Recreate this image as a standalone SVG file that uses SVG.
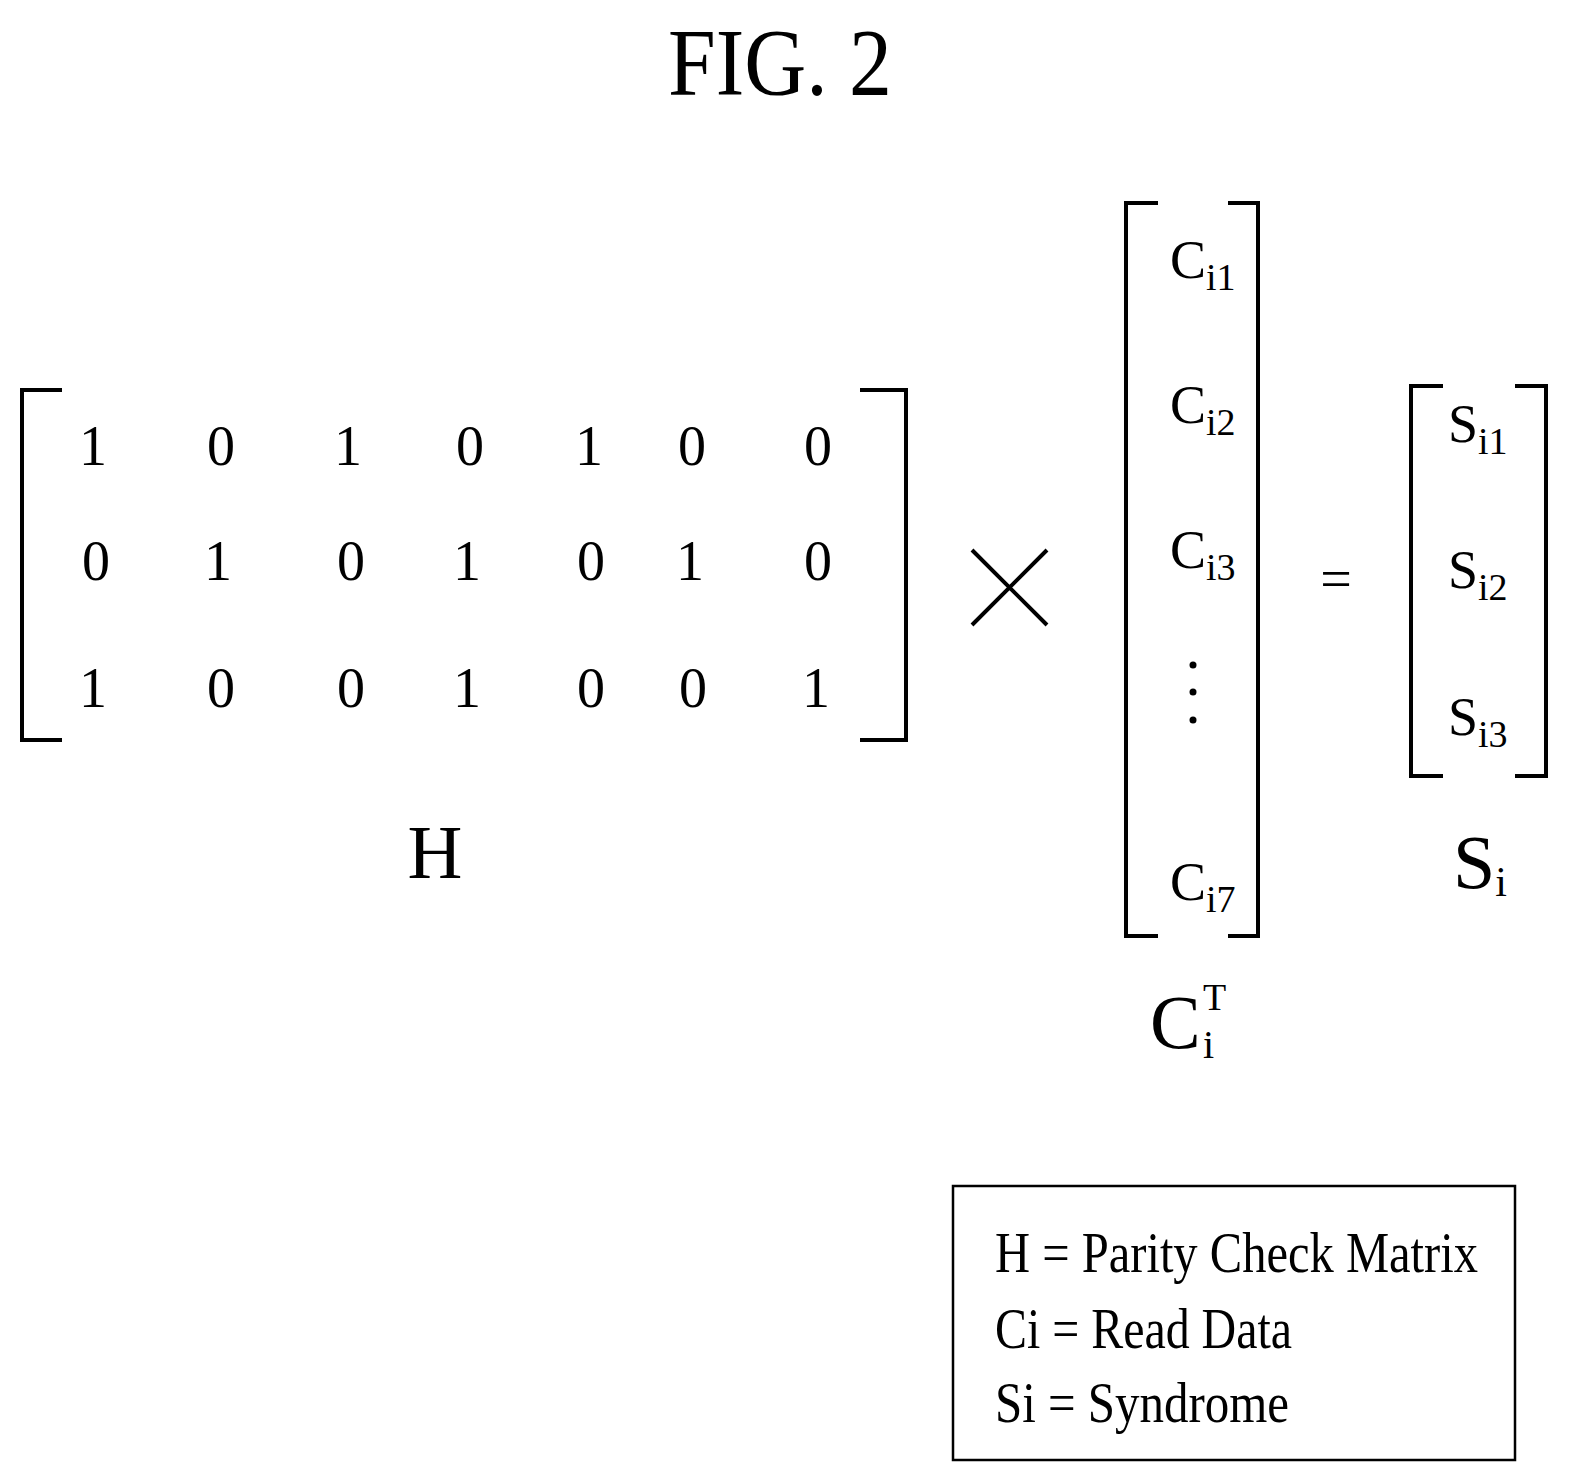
<svg xmlns="http://www.w3.org/2000/svg" width="1570" height="1483" viewBox="0 0 1570 1483">
<style>
text{font-family:"Liberation Serif",serif;fill:#000}
.e{font-size:56px;text-anchor:middle}
.b{fill:none;stroke:#000;stroke-width:4}
.s{font-size:38px}
</style>
<rect width="1570" height="1483" fill="#fff"/>
<text x="780" y="95" font-size="96" text-anchor="middle" textLength="224" lengthAdjust="spacingAndGlyphs">FIG. 2</text>
<g id="H">
<path class="b" d="M62,390H22V740H62M860,390H906V740H860"/>
<g class="e">
<text x="93" y="465">1</text><text x="221" y="465">0</text><text x="348" y="465">1</text><text x="470" y="465">0</text><text x="589" y="465">1</text><text x="692" y="465">0</text><text x="818" y="465">0</text>
<text x="96" y="580">0</text><text x="218" y="580">1</text><text x="351" y="580">0</text><text x="467" y="580">1</text><text x="591" y="580">0</text><text x="690" y="580">1</text><text x="818" y="580">0</text>
<text x="93" y="707">1</text><text x="221" y="707">0</text><text x="351" y="707">0</text><text x="467" y="707">1</text><text x="591" y="707">0</text><text x="693" y="707">0</text><text x="816" y="707">1</text>
</g>
<text x="435" y="878" font-size="76" text-anchor="middle">H</text>
</g>
<g id="times"><path class="b" d="M972,550L1047,625M972,625L1047,550"/></g>
<g id="C">
<path class="b" d="M1158,203H1126V936H1158M1228,203H1258V936H1228"/>
<text x="1170" y="278" font-size="54">C<tspan class="s" dy="12">i1</tspan></text>
<text x="1170" y="423" font-size="54">C<tspan class="s" dy="12">i2</tspan></text>
<text x="1170" y="568" font-size="54">C<tspan class="s" dy="12">i3</tspan></text>
<circle cx="1193" cy="665" r="3.5"/><circle cx="1193" cy="692" r="3.5"/><circle cx="1193" cy="720" r="3.5"/>
<text x="1170" y="900" font-size="54">C<tspan class="s" dy="12">i7</tspan></text>
<text y="1048" font-size="76"><tspan x="1150">C</tspan><tspan x="1203" y="1058" font-size="40">i</tspan><tspan x="1203" y="1010" font-size="38">T</tspan></text>
</g>
<g id="eq"><text x="1336" y="598" font-size="56" text-anchor="middle">=</text></g>
<g id="S">
<path class="b" d="M1443,386H1411V776H1443M1515,386H1546V776H1515"/>
<text x="1448" y="442" font-size="54">S<tspan class="s" dy="12">i1</tspan></text>
<text x="1448" y="588" font-size="54">S<tspan class="s" dy="12">i2</tspan></text>
<text x="1448" y="735" font-size="54">S<tspan class="s" dy="12">i3</tspan></text>
<text x="1453" y="888" font-size="76">S<tspan font-size="42" dy="8">i</tspan></text>
</g>
<g id="legend">
<rect x="953" y="1186" width="562" height="274" fill="none" stroke="#000" stroke-width="2.5"/>
<text x="995" y="1272" font-size="56" textLength="483" lengthAdjust="spacingAndGlyphs">H = Parity Check Matrix</text>
<text x="995" y="1348" font-size="56" textLength="297" lengthAdjust="spacingAndGlyphs">Ci = Read Data</text>
<text x="995" y="1422" font-size="56" textLength="294" lengthAdjust="spacingAndGlyphs">Si = Syndrome</text>
</g>
</svg>
